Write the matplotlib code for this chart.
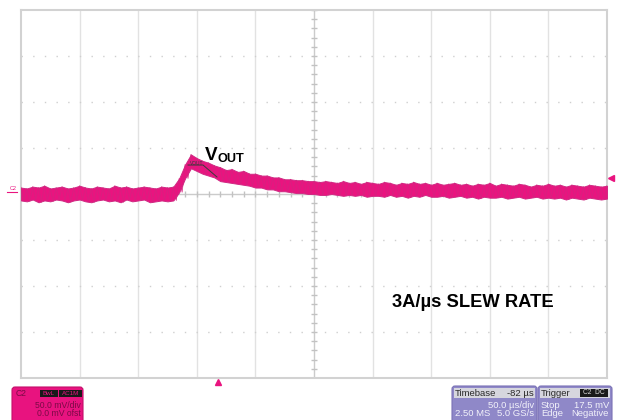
import numpy as np
import matplotlib
matplotlib.use("Agg")
import matplotlib.pyplot as plt
from matplotlib.patches import FancyBboxPatch, Rectangle

plt.rcParams['font.family'] = ['Liberation Sans', 'DejaVu Sans']

# scope settings
time_per_div = 50.0     # us/div
volt_per_div = 50.0     # mV/div
trigger_delay = -82.0   # us
trigger_level = 17.5    # mV

# V_OUT noise band, upper/lower envelope in mV, sampled every 5 us from -250 to 250 us
vout_upper = [7, 6, 8, 7, 9, 6, 7, 8, 6, 7, 9, 7, 6, 8, 7, 6, 9, 7, 8, 6, 7, 8, 7, 6, 8, 7,
              8, 17, 32, 43, 39, 36, 34, 31, 29, 26, 27, 24, 25, 22, 22, 20, 20, 18, 18,
              16, 16, 15, 15, 14, 14, 13, 14, 13, 12, 14, 12, 13, 11, 13, 12,
              11, 13, 12, 10, 12, 11, 13, 11, 12, 10,
              12, 10, 11, 12, 10, 11, 9, 11, 10, 12,
              9, 11, 10, 9, 11, 10, 8, 10, 9, 11,
              9, 10, 8, 10, 9, 8, 10, 9, 8, 9]
vout_lower = [-7, -8, -6, -9, -7, -8, -6, -7, -9, -7, -6, -8, -9, -7, -6, -8, -7, -9, -6, -8,
              -7, -6, -9, -8, -7, -8,
              -7, 2, 17, 28, 25, 22, 20, 18, 14, 13, 12, 11, 10, 9, 7, 7, 5, 5, 3,
              3, 2, 1, 1, 0, 0, -1, -1, 0, -1, -2, -1, -2, -1, -3, -2,
              -2, -3, -1, -3, -2, -4, -2, -3, -1, -3,
              -3, -2, -4, -3, -2, -4, -3, -5, -3, -4,
              -4, -3, -5, -4, -3, -5, -4, -3, -5, -4,
              -5, -4, -6, -4, -5, -6, -4, -5, -6, -5]
t_us = np.linspace(-5 * time_per_div, 5 * time_per_div, len(vout_upper))

trace_color = '#e9147f'

fig = plt.figure(figsize=(6.2, 4.2), dpi=100)

# overlay in pixel coordinates for the status boxes
ov = fig.add_axes([0, 0, 1, 1])
ov.set_xlim(0, 620)
ov.set_ylim(420, 0)
ov.axis('off')

ax = fig.add_axes([21 / 620, 42 / 420, 586 / 620, 368 / 420])
ax.set_xlim(-5 * time_per_div, 5 * time_per_div)
ax.set_ylim(-4 * volt_per_div, 4 * volt_per_div)
ax.set_xticks([])
ax.set_yticks([])
for s in ax.spines.values():
    s.set_color('#d2d2d2')
    s.set_linewidth(1.5)

# graticule
for x in np.arange(-4, 5) * time_per_div:
    if x != 0:
        ax.axvline(x, color='#e2e2e2', lw=1, zorder=1)
for y in np.arange(-3, 4) * volt_per_div:
    if y != 0:
        ax.axhline(y, color='#cfcfcf', lw=1, ls=(0, (1, 7.4)), zorder=1)
ax.axvline(0, color='#cbcbcb', lw=1, zorder=1)
ax.axhline(0, color='#cbcbcb', lw=1, zorder=1)
tx = np.arange(-250, 251, 10)
ax.plot(tx, np.zeros_like(tx), ls='none', marker='|', ms=4, color='#c2c2c2', zorder=1)
ty = np.arange(-200, 201, 10)
ax.plot(np.zeros_like(ty), ty, ls='none', marker='_', ms=4, color='#c2c2c2', zorder=1)

# trace: filled band plus a zigzag between the envelopes for the noisy look
ax.fill_between(t_us, vout_lower, vout_upper, color=trace_color, edgecolor='#cf2a83',
                lw=0.7, zorder=3)
zig_t = np.column_stack([t_us, t_us + 2.5]).ravel()[:-1]
zig_v = np.column_stack([vout_upper, vout_lower]).ravel()[:-1]
ax.plot(zig_t, zig_v, color='#d6227f', lw=0.6, alpha=0.9, zorder=3)

# small on-screen annotation near the peak
ax.plot([-107.5, -94.7, -82.8], [31.5, 31.5, 18.5], color='#3a3a3a', lw=0.7, zorder=4)
ax.text(-106, 31, 'VOUT', fontsize=3.5, color='#3a3a3a', zorder=4)

# labels
ax.text(-93, 37, 'V', fontsize=13.6, fontweight='bold', color='black', zorder=5)
ax.text(-82, 35, 'OUT', fontsize=9.2, fontweight='bold', color='black', zorder=5)
ax.text(66.5, -122.5, '3A/\u00b5s SLEW RATE', fontsize=13.2, fontweight='bold',
        color='black', zorder=5)

# markers: channel zero, trigger position, trigger level
ax.text(-254, 3, 'C2', fontsize=4, color=trace_color, ha='right', va='bottom', clip_on=False)
ax.plot([-262, -253], [2, 2], color=trace_color, lw=0.8, clip_on=False)
ax.plot(trigger_delay, -204, marker='^', ms=5, color=trace_color, clip_on=False)
ax.plot(253, trigger_level, marker='<', ms=5, color=trace_color, clip_on=False)

# C2 status box
ov.add_patch(FancyBboxPatch((12, 387), 71, 40, boxstyle='round,pad=0,rounding_size=3',
                            fc='#e8137f', ec='#c40f6a', lw=0.8))
ov.text(16, 393, 'C2', fontsize=6.2, color='#7a0a45', va='center')
ov.add_patch(Rectangle((40, 389.5), 18, 7.5, fc='#1a1a1a', ec='none'))
ov.add_patch(Rectangle((59, 389.5), 23, 7.5, fc='#1a1a1a', ec='none'))
ov.text(49, 393.3, 'BwL', fontsize=4.5, color='#e8137f', ha='center', va='center')
ov.text(70.5, 393.3, 'AC1M', fontsize=4.5, color='#e8137f', ha='center', va='center')
ov.text(81, 405, '50.0 mV/div', fontsize=6.2, color='#7a0a45', ha='right', va='center')
ov.text(81, 414, '0.0 mV ofst', fontsize=6.2, color='#7a0a45', ha='right', va='center')

# Timebase box
purple = '#8f88c8'
light = '#f2f2fa'
ov.add_patch(FancyBboxPatch((452, 386), 85, 40, boxstyle='round,pad=0,rounding_size=3',
                            fc=purple, ec='#7a72b6', lw=0.8))
ov.add_patch(Rectangle((454, 388), 81, 9.5, fc='#d6d6de', ec='none'))
ov.text(455, 393, 'Timebase', fontsize=6.8, color='#2a2a2a', va='center')
ov.text(534, 393, '-82 \u00b5s', fontsize=6.8, color='#2a2a2a', ha='right', va='center')
ov.text(534, 405, '50.0 \u00b5s/div', fontsize=6.8, color=light, ha='right', va='center')
ov.text(455, 414, '2.50 MS', fontsize=6.8, color=light, va='center')
ov.text(534, 414, '5.0 GS/s', fontsize=6.8, color=light, ha='right', va='center')

# Trigger box
ov.add_patch(FancyBboxPatch((538, 386), 74, 40, boxstyle='round,pad=0,rounding_size=3',
                            fc=purple, ec='#7a72b6', lw=0.8))
ov.add_patch(Rectangle((540, 388), 70, 9.5, fc='#d6d6de', ec='none'))
ov.text(541, 393, 'Trigger', fontsize=6.8, color='#2a2a2a', va='center')
ov.add_patch(Rectangle((580, 389), 28, 7.5, fc='#1a1a1a', ec='none'))
ov.text(594, 392.8, 'C2  DC', fontsize=4.8, color='#e0e0e0', ha='center', va='center')
ov.text(541, 405, 'Stop', fontsize=6.8, color=light, va='center')
ov.text(609, 405, '17.5 mV', fontsize=6.8, color=light, ha='right', va='center')
ov.text(541, 414, 'Edge', fontsize=6.8, color=light, va='center')
ov.text(609, 414, 'Negative', fontsize=6.8, color=light, ha='right', va='center')

fig.savefig('out.png', dpi=100)
